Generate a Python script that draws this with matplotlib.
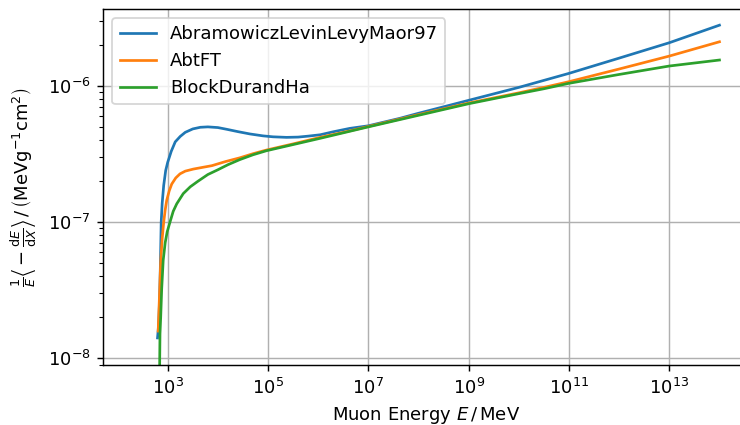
import numpy as np
import matplotlib
matplotlib.use("Agg")
import matplotlib.pyplot as plt

# log10(E / MeV) and log10(1/E <-dE/dX> / (MeV g^-1 cm^2))
ALLM_LOGE = [2.797, 2.82, 2.84, 2.855, 2.87, 2.89, 2.92, 2.96, 3.0, 3.07, 3.15, 3.25,
             3.35, 3.5, 3.65, 3.8, 4.0, 4.18, 4.4, 4.64, 4.9, 5.1, 5.37, 5.6, 5.8,
             6.04, 6.3, 6.63, 7.0, 7.63, 8.0, 9.0, 10.0, 11.0, 12.0, 13.0, 14.0]
ALLM_LOGV = [-7.85, -7.75, -7.55, -7.30, -7.00, -6.86, -6.73, -6.62, -6.56, -6.48, -6.41, -6.37,
             -6.34, -6.315, -6.303, -6.300, -6.305, -6.318, -6.335, -6.352, -6.366, -6.373, -6.377, -6.375, -6.368,
             -6.358, -6.336, -6.311, -6.292, -6.237, -6.20, -6.105, -6.01, -5.907, -5.795, -5.682, -5.553]

ABT_LOGE = [2.81, 2.835, 2.86, 2.89, 2.92, 2.95, 2.98, 3.03, 3.08, 3.16, 3.245, 3.35,
            3.51, 3.7, 3.88, 4.15, 4.44, 4.7, 4.97, 5.5, 6.04, 6.6, 7.0, 8.0, 9.0,
            10.0, 10.5, 11.0, 12.0, 13.0, 14.0]
ABT_LOGV = [-7.80, -7.55, -7.29, -7.12, -7.00, -6.91, -6.84, -6.77, -6.72, -6.675, -6.645, -6.625,
            -6.61, -6.597, -6.585, -6.555, -6.527, -6.497, -6.47, -6.425, -6.377, -6.332, -6.297, -6.21, -6.125,
            -6.05, -6.01, -5.968, -5.875, -5.78, -5.675]

BDH_LOGE = [2.832, 2.846, 2.86, 2.88, 2.91, 2.95, 2.99, 3.045, 3.11, 3.18, 3.31, 3.45,
            3.6, 3.8, 4.0, 4.2, 4.44, 4.7, 4.97, 5.5, 6.04, 6.6, 7.0, 8.0, 9.0,
            10.0, 10.5, 11.0, 12.0, 13.0, 14.0]
BDH_LOGV = [-8.3, -7.82, -7.70, -7.49, -7.28, -7.15, -7.07, -7.00, -6.92, -6.865, -6.79, -6.74,
            -6.70, -6.65, -6.615, -6.578, -6.54, -6.505, -6.475, -6.43, -6.384, -6.335, -6.30, -6.215, -6.13,
            -6.056, -6.02, -5.98, -5.915, -5.853, -5.809]

SERIES = [("AbramowiczLevinLevyMaor97", ALLM_LOGE, ALLM_LOGV, "#1f77b4"),
          ("AbtFT", ABT_LOGE, ABT_LOGV, "#ff7f0e"),
          ("BlockDurandHa", BDH_LOGE, BDH_LOGV, "#2ca02c")]

DPI = 130
fig = plt.figure(figsize=(740 / DPI, 425 / DPI), dpi=DPI)
ax = fig.add_axes([0.1396, 0.1405, 0.8723, 0.8384])

for name, le, lv, c in SERIES:
    ax.plot(10 ** np.array(le), 10 ** np.array(lv), color=c, label=name)

ax.set_xscale("log")
ax.set_yscale("log")
ax.set_xlim(10 ** 1.716, 10 ** 14.585)
ax.set_ylim(10 ** -8.051, 10 ** -5.434)
ax.grid(True)
ax.set_xlabel(r"Muon Energy $E\,/\,\mathrm{MeV}$")
ax.set_ylabel(r"$\frac{1}{E}\left\langle -\frac{\mathrm{d}E}{\mathrm{d}X}\right\rangle\,/\,"
              r"\left(\mathrm{MeV}\mathrm{g}^{-1}\mathrm{cm}^{2}\right)$")
ax.yaxis.set_label_coords(-0.10, 0.5)
ax.legend(loc="upper left")

fig.savefig("out.png", dpi=DPI)
